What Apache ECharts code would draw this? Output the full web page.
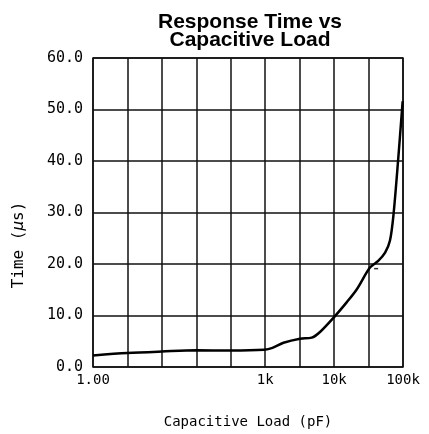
<!DOCTYPE html>
<html>
<head>
<meta charset="utf-8">
<script src="https://cdn.jsdelivr.net/npm/echarts@6/dist/echarts.min.js"></script>
<style>html,body{margin:0;padding:0;background:#fff}#c{width:429px;height:434px}</style>
</head>
<body>
<div id="c"></div>
<script>
// x positions are in grid-column units of the original chart's axis (0..9)
var tickPositions = [0, 5, 7, 9];
var tickLabels = ['1.00', '1k', '10k', '100k'];
var curveX = [0, 1, 2, 3, 3.99, 4.97, 5.21, 5.53, 6.01, 6.35, 6.59, 7.0, 7.37, 7.66, 8.04, 8.28, 8.48, 8.62, 8.72, 8.86, 8.99];
var curveY = [2.25, 2.7, 3.0, 3.25, 3.2, 3.35, 3.7, 4.7, 5.5, 5.7, 6.8, 9.7, 12.6, 15.1, 19.3, 20.6, 22.2, 24.5, 29.3, 40.3, 51.6];
var markX = [8.22];
var markY = [19.1];

var mono = 'DejaVu Sans Mono';
var chart = echarts.init(document.getElementById('c'));
chart.setOption({
  animation: false,
  backgroundColor: '#fff',
  title: {
    text: 'Response Time vs\nCapacitive Load',
    left: 245, top: 8, textAlign: 'center',
    textStyle: {fontFamily: 'Liberation Sans', fontWeight: 'bold', fontSize: 21, lineHeight: 18, color: '#000'}
  },
  grid: {left: 93, right: 26, top: 58, bottom: 66, show: true, borderColor: '#111', borderWidth: 1.5},
  graphic: [{
    type: 'text', x: 19, y: 245, rotation: Math.PI / 2,
    style: {
      text: 'Time ({i|μ}s)', fontFamily: mono, fontSize: 16, fill: '#000', align: 'center', verticalAlign: 'middle',
      rich: {i: {fontFamily: mono, fontSize: 16, fontStyle: 'italic', fill: '#000'}}
    }
  }],
  xAxis: {
    type: 'value', min: 0, max: 9, interval: 1,
    axisLine: {show: false}, axisTick: {show: false},
    splitLine: {show: true, lineStyle: {color: '#111', width: 1.5}},
    axisLabel: {
      fontFamily: mono, fontSize: 14, color: '#000', margin: 6,
      formatter: function (v) { var i = tickPositions.indexOf(v); return i >= 0 ? tickLabels[i] : ''; }
    },
    name: 'Capacitive Load (pF)', nameLocation: 'middle', nameGap: 48,
    nameTextStyle: {fontFamily: mono, fontSize: 14, color: '#000'}
  },
  yAxis: {
    type: 'value', min: 0, max: 60, interval: 10,
    axisLine: {show: false}, axisTick: {show: false},
    splitLine: {show: true, lineStyle: {color: '#111', width: 1.5}},
    axisLabel: {fontFamily: mono, fontSize: 15, color: '#000', margin: 10, formatter: function (v) { return v.toFixed(1); }}
  },
  series: [{
    type: 'line', smooth: 0.3, symbol: 'none',
    lineStyle: {color: '#000', width: 2.5},
    data: curveX.map(function (x, i) { return [x, curveY[i]]; })
  }, {
    type: 'scatter', symbol: 'rect', symbolSize: [4, 1.5],
    itemStyle: {color: '#000'},
    data: markX.map(function (x, i) { return [x, markY[i]]; })
  }]
});
</script>
</body>
</html>
